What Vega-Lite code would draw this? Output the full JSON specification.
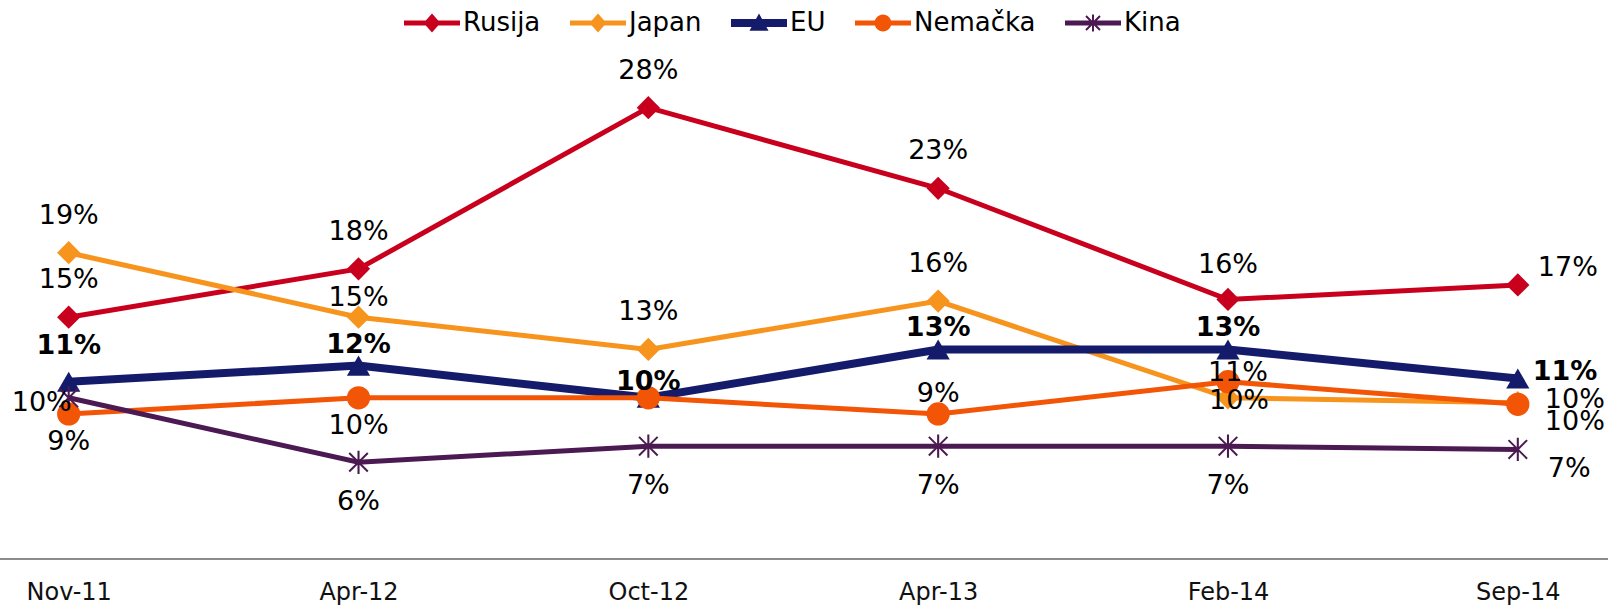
{
  "$schema": "https://vega.github.io/schema/vega-lite/v6.json",
  "width": 1608,
  "height": 559,
  "autosize": "none",
  "padding": {"top": 0, "bottom": 47, "left": 0, "right": 0},
  "background": "white",
  "config": {
    "view": {"stroke": null},
    "axisX": {"domain": false, "ticks": false, "tickSize": 0, "grid": false, "labelFont": "DejaVu Sans", "labelFontSize": 24, "labelColor": "#111111", "labelPadding": 21, "labelAngle": 0},
    "text": {"font": "DejaVu Sans", "fontSize": 27, "color": "#000000", "baseline": "middle"}
  },
  "datasets": {
    "d": [
      {"date": "Nov-11", "series": "Rusija", "v": 0.15},
      {"date": "Apr-12", "series": "Rusija", "v": 0.18},
      {"date": "Oct-12", "series": "Rusija", "v": 0.28},
      {"date": "Apr-13", "series": "Rusija", "v": 0.23},
      {"date": "Feb-14", "series": "Rusija", "v": 0.161},
      {"date": "Sep-14", "series": "Rusija", "v": 0.17},
      {"date": "Nov-11", "series": "Japan", "v": 0.19},
      {"date": "Apr-12", "series": "Japan", "v": 0.15},
      {"date": "Oct-12", "series": "Japan", "v": 0.13},
      {"date": "Apr-13", "series": "Japan", "v": 0.16},
      {"date": "Feb-14", "series": "Japan", "v": 0.10},
      {"date": "Sep-14", "series": "Japan", "v": 0.097},
      {"date": "Nov-11", "series": "EU", "v": 0.11},
      {"date": "Apr-12", "series": "EU", "v": 0.12},
      {"date": "Oct-12", "series": "EU", "v": 0.10},
      {"date": "Apr-13", "series": "EU", "v": 0.13},
      {"date": "Feb-14", "series": "EU", "v": 0.13},
      {"date": "Sep-14", "series": "EU", "v": 0.112},
      {"date": "Nov-11", "series": "Nemačka", "v": 0.09},
      {"date": "Apr-12", "series": "Nemačka", "v": 0.10},
      {"date": "Oct-12", "series": "Nemačka", "v": 0.10},
      {"date": "Apr-13", "series": "Nemačka", "v": 0.09},
      {"date": "Feb-14", "series": "Nemačka", "v": 0.11},
      {"date": "Sep-14", "series": "Nemačka", "v": 0.096},
      {"date": "Nov-11", "series": "Kina", "v": 0.10},
      {"date": "Apr-12", "series": "Kina", "v": 0.06},
      {"date": "Oct-12", "series": "Kina", "v": 0.07},
      {"date": "Apr-13", "series": "Kina", "v": 0.07},
      {"date": "Feb-14", "series": "Kina", "v": 0.07},
      {"date": "Sep-14", "series": "Kina", "v": 0.068}
    ]
  },
  "data": {"name": "d"},
  "layer": [
    {
      "data": {"values": [{}]},
      "mark": {"type": "rule", "color": "#8c8c8c", "strokeWidth": 2},
      "encoding": {"y": {"datum": 0, "type": "quantitative", "scale": {"domain": [0, 0.3468], "nice": false}, "axis": null}}
    },
    {
      "transform": [{"filter": "datum.series=='Rusija' || datum.series=='Japan'"}],
      "mark": {"type": "line", "strokeWidth": 5},
      "encoding": {
        "x": {"field": "date", "type": "ordinal", "scale": {"type": "point", "domain": ["Nov-11", "Apr-12", "Oct-12", "Apr-13", "Feb-14", "Sep-14"], "range": [68.7, 1517.8], "padding": 0}, "title": null},
        "y": {"field": "v", "type": "quantitative", "scale": {"domain": [0, 0.3468], "nice": false}, "axis": null},
        "stroke": {"field": "series", "type": "nominal", "scale": {"domain": ["Kina", "Nemačka", "EU", "Japan", "Rusija"], "range": ["#4C1A52", "#F25506", "#141B6B", "#F7941D", "#C8001E"]}, "legend": null}
      }
    },
    {
      "transform": [{"filter": "datum.series=='EU'"}],
      "mark": {"type": "line", "strokeWidth": 8, "color": "#141B6B"},
      "encoding": {
        "x": {"field": "date", "type": "ordinal", "scale": {"type": "point", "domain": ["Nov-11", "Apr-12", "Oct-12", "Apr-13", "Feb-14", "Sep-14"], "range": [68.7, 1517.8], "padding": 0}, "title": null},
        "y": {"field": "v", "type": "quantitative", "scale": {"domain": [0, 0.3468], "nice": false}, "axis": null}
      }
    },
    {
      "transform": [{"filter": "datum.series=='Nemačka' || datum.series=='Kina'"}],
      "mark": {"type": "line", "strokeWidth": 5},
      "encoding": {
        "x": {"field": "date", "type": "ordinal", "scale": {"type": "point", "domain": ["Nov-11", "Apr-12", "Oct-12", "Apr-13", "Feb-14", "Sep-14"], "range": [68.7, 1517.8], "padding": 0}, "title": null},
        "y": {"field": "v", "type": "quantitative", "scale": {"domain": [0, 0.3468], "nice": false}, "axis": null},
        "stroke": {"field": "series", "type": "nominal", "scale": {"domain": ["Kina", "Nemačka", "EU", "Japan", "Rusija"], "range": ["#4C1A52", "#F25506", "#141B6B", "#F7941D", "#C8001E"]}, "legend": null}
      }
    },
    {
      "mark": {"type": "point", "filled": true, "size": 540, "opacity": 1},
      "encoding": {
        "x": {"field": "date", "type": "ordinal", "scale": {"type": "point", "domain": ["Nov-11", "Apr-12", "Oct-12", "Apr-13", "Feb-14", "Sep-14"], "range": [68.7, 1517.8], "padding": 0}, "title": null},
        "y": {"field": "v", "type": "quantitative", "scale": {"domain": [0, 0.3468], "nice": false}, "axis": null},
        "shape": {"field": "series", "type": "nominal",
          "scale": {"domain": ["Japan", "Rusija", "EU", "Nemačka", "Kina"], "range": ["diamond", "diamond", "triangle-up", "circle",
            "M-0.09,-1H0.09V1H-0.09Z M-0.739,-0.861L0.861,0.739L0.739,0.861L-0.861,-0.739Z M-0.861,0.739L0.739,-0.861L0.861,-0.739L-0.739,0.861Z"]},
          "legend": null},
        "fill": {"field": "series", "type": "nominal", "title": null,
          "scale": {"domain": ["Rusija", "Japan", "EU", "Nemačka", "Kina"], "range": ["#C8001E", "#F7941D", "#141B6B", "#F25506", "#4C1A52"]},
          "legend": {"orient": "none", "legendX": 404, "legendY": -5, "direction": "horizontal", "title": null, "symbolSize": 3136, "labelFont": "DejaVu Sans", "labelFontSize": 26, "labelColor": "#000000", "labelOffset": 3, "columnPadding": 29, "padding": 0, "symbolStrokeWidth": 0, "symbolOpacity": 1,
            "encode": {"symbols": {"update": {
              "size": {"value": 3136},
              "opacity": {"value": 1},
              "shape": {"signal": "datum.value == 'EU' ? 'M-1,-0.14H1V0.14H-1Z M0,-0.34L0.34,0.28L-0.34,0.28Z' : datum.value == 'Nemačka' ? 'M-1,-0.09H1V0.09H-1Z M-0.3,0A0.3,0.3 0 1,1 0.3,0A0.3,0.3 0 1,1 -0.3,0Z' : datum.value == 'Kina' ? 'M-1,-0.09H1V0.09H-1Z M-0.035,-0.3H0.035V0.3H-0.035Z M-0.225,-0.275L0.275,0.225L0.225,0.275L-0.275,-0.225Z M-0.275,0.225L0.225,-0.275L0.275,-0.225L-0.225,0.275Z' : 'M-1,-0.09H1V0.09H-1Z M0,-0.34L0.3,0L0,0.34L-0.3,0Z'"}
            }}}}}
      }
    },
    {
      "transform": [{"filter": "(datum.series=='Rusija' && indexof(['Nov-11','Apr-12','Oct-12','Apr-13'], datum.date) >= 0) || (datum.series=='Japan' && indexof(['Nov-11','Oct-12','Apr-13'], datum.date) >= 0)"}],
      "mark": {"type": "text", "dy": -37},
      "encoding": {
        "x": {"field": "date", "type": "ordinal", "scale": {"type": "point", "domain": ["Nov-11", "Apr-12", "Oct-12", "Apr-13", "Feb-14", "Sep-14"], "range": [68.7, 1517.8], "padding": 0}, "title": null},
        "y": {"field": "v", "type": "quantitative", "scale": {"domain": [0, 0.3468], "nice": false}, "axis": null},
        "text": {"field": "v", "type": "quantitative", "format": ".0%"}
      }
    },
    {
      "transform": [{"filter": "datum.series=='Rusija' && datum.date=='Feb-14'"}],
      "mark": {"type": "text", "dy": -34},
      "encoding": {
        "x": {"field": "date", "type": "ordinal", "scale": {"type": "point", "domain": ["Nov-11", "Apr-12", "Oct-12", "Apr-13", "Feb-14", "Sep-14"], "range": [68.7, 1517.8], "padding": 0}, "title": null},
        "y": {"field": "v", "type": "quantitative", "scale": {"domain": [0, 0.3468], "nice": false}, "axis": null},
        "text": {"field": "v", "type": "quantitative", "format": ".0%"}
      }
    },
    {
      "transform": [{"filter": "datum.series=='Japan' && datum.date=='Apr-12'"}],
      "mark": {"type": "text", "dy": -19},
      "encoding": {
        "x": {"field": "date", "type": "ordinal", "scale": {"type": "point", "domain": ["Nov-11", "Apr-12", "Oct-12", "Apr-13", "Feb-14", "Sep-14"], "range": [68.7, 1517.8], "padding": 0}, "title": null},
        "y": {"field": "v", "type": "quantitative", "scale": {"domain": [0, 0.3468], "nice": false}, "axis": null},
        "text": {"field": "v", "type": "quantitative", "format": ".0%"}
      }
    },
    {
      "transform": [{"filter": "datum.series=='Japan' && datum.date=='Feb-14'"}],
      "mark": {"type": "text", "dx": 11, "dy": 3},
      "encoding": {
        "x": {"field": "date", "type": "ordinal", "scale": {"type": "point", "domain": ["Nov-11", "Apr-12", "Oct-12", "Apr-13", "Feb-14", "Sep-14"], "range": [68.7, 1517.8], "padding": 0}, "title": null},
        "y": {"field": "v", "type": "quantitative", "scale": {"domain": [0, 0.3468], "nice": false}, "axis": null},
        "text": {"field": "v", "type": "quantitative", "format": ".0%"}
      }
    },
    {
      "transform": [{"filter": "datum.series=='Rusija' && datum.date=='Sep-14'"}],
      "mark": {"type": "text", "align": "left", "dx": 20, "dy": -17},
      "encoding": {
        "x": {"field": "date", "type": "ordinal", "scale": {"type": "point", "domain": ["Nov-11", "Apr-12", "Oct-12", "Apr-13", "Feb-14", "Sep-14"], "range": [68.7, 1517.8], "padding": 0}, "title": null},
        "y": {"field": "v", "type": "quantitative", "scale": {"domain": [0, 0.3468], "nice": false}, "axis": null},
        "text": {"field": "v", "type": "quantitative", "format": ".0%"}
      }
    },
    {
      "transform": [{"filter": "datum.series=='Japan' && datum.date=='Sep-14'"}],
      "mark": {"type": "text", "align": "left", "dx": 27, "dy": -3},
      "encoding": {
        "x": {"field": "date", "type": "ordinal", "scale": {"type": "point", "domain": ["Nov-11", "Apr-12", "Oct-12", "Apr-13", "Feb-14", "Sep-14"], "range": [68.7, 1517.8], "padding": 0}, "title": null},
        "y": {"field": "v", "type": "quantitative", "scale": {"domain": [0, 0.3468], "nice": false}, "axis": null},
        "text": {"field": "v", "type": "quantitative", "format": ".0%"}
      }
    },
    {
      "transform": [{"filter": "datum.series=='Nemačka' && datum.date=='Sep-14'"}],
      "mark": {"type": "text", "align": "left", "dx": 27, "dy": 18},
      "encoding": {
        "x": {"field": "date", "type": "ordinal", "scale": {"type": "point", "domain": ["Nov-11", "Apr-12", "Oct-12", "Apr-13", "Feb-14", "Sep-14"], "range": [68.7, 1517.8], "padding": 0}, "title": null},
        "y": {"field": "v", "type": "quantitative", "scale": {"domain": [0, 0.3468], "nice": false}, "axis": null},
        "text": {"field": "v", "type": "quantitative", "format": ".0%"}
      }
    },
    {
      "transform": [{"filter": "datum.series=='Kina' && datum.date=='Sep-14'"}],
      "mark": {"type": "text", "align": "left", "dx": 30, "dy": 20},
      "encoding": {
        "x": {"field": "date", "type": "ordinal", "scale": {"type": "point", "domain": ["Nov-11", "Apr-12", "Oct-12", "Apr-13", "Feb-14", "Sep-14"], "range": [68.7, 1517.8], "padding": 0}, "title": null},
        "y": {"field": "v", "type": "quantitative", "scale": {"domain": [0, 0.3468], "nice": false}, "axis": null},
        "text": {"field": "v", "type": "quantitative", "format": ".0%"}
      }
    },
    {
      "transform": [{"filter": "datum.series=='EU' && datum.date=='Nov-11'"}],
      "mark": {"type": "text", "fontWeight": "bold", "dy": -36},
      "encoding": {
        "x": {"field": "date", "type": "ordinal", "scale": {"type": "point", "domain": ["Nov-11", "Apr-12", "Oct-12", "Apr-13", "Feb-14", "Sep-14"], "range": [68.7, 1517.8], "padding": 0}, "title": null},
        "y": {"field": "v", "type": "quantitative", "scale": {"domain": [0, 0.3468], "nice": false}, "axis": null},
        "text": {"field": "v", "type": "quantitative", "format": ".0%"}
      }
    },
    {
      "transform": [{"filter": "datum.series=='EU' && indexof(['Apr-12','Apr-13','Feb-14'], datum.date) >= 0"}],
      "mark": {"type": "text", "fontWeight": "bold", "dy": -21},
      "encoding": {
        "x": {"field": "date", "type": "ordinal", "scale": {"type": "point", "domain": ["Nov-11", "Apr-12", "Oct-12", "Apr-13", "Feb-14", "Sep-14"], "range": [68.7, 1517.8], "padding": 0}, "title": null},
        "y": {"field": "v", "type": "quantitative", "scale": {"domain": [0, 0.3468], "nice": false}, "axis": null},
        "text": {"field": "v", "type": "quantitative", "format": ".0%"}
      }
    },
    {
      "transform": [{"filter": "datum.series=='EU' && datum.date=='Oct-12'"}],
      "mark": {"type": "text", "fontWeight": "bold", "dy": -16},
      "encoding": {
        "x": {"field": "date", "type": "ordinal", "scale": {"type": "point", "domain": ["Nov-11", "Apr-12", "Oct-12", "Apr-13", "Feb-14", "Sep-14"], "range": [68.7, 1517.8], "padding": 0}, "title": null},
        "y": {"field": "v", "type": "quantitative", "scale": {"domain": [0, 0.3468], "nice": false}, "axis": null},
        "text": {"field": "v", "type": "quantitative", "format": ".0%"}
      }
    },
    {
      "transform": [{"filter": "datum.series=='EU' && datum.date=='Sep-14'"}],
      "mark": {"type": "text", "fontWeight": "bold", "align": "left", "dx": 15, "dy": -6},
      "encoding": {
        "x": {"field": "date", "type": "ordinal", "scale": {"type": "point", "domain": ["Nov-11", "Apr-12", "Oct-12", "Apr-13", "Feb-14", "Sep-14"], "range": [68.7, 1517.8], "padding": 0}, "title": null},
        "y": {"field": "v", "type": "quantitative", "scale": {"domain": [0, 0.3468], "nice": false}, "axis": null},
        "text": {"field": "v", "type": "quantitative", "format": ".0%"}
      }
    },
    {
      "transform": [{"filter": "datum.series=='Nemačka' && (datum.date=='Nov-11' || datum.date=='Apr-12')"}],
      "mark": {"type": "text", "dy": 28},
      "encoding": {
        "x": {"field": "date", "type": "ordinal", "scale": {"type": "point", "domain": ["Nov-11", "Apr-12", "Oct-12", "Apr-13", "Feb-14", "Sep-14"], "range": [68.7, 1517.8], "padding": 0}, "title": null},
        "y": {"field": "v", "type": "quantitative", "scale": {"domain": [0, 0.3468], "nice": false}, "axis": null},
        "text": {"field": "v", "type": "quantitative", "format": ".0%"}
      }
    },
    {
      "transform": [{"filter": "datum.series=='Nemačka' && datum.date=='Apr-13'"}],
      "mark": {"type": "text", "dy": -20},
      "encoding": {
        "x": {"field": "date", "type": "ordinal", "scale": {"type": "point", "domain": ["Nov-11", "Apr-12", "Oct-12", "Apr-13", "Feb-14", "Sep-14"], "range": [68.7, 1517.8], "padding": 0}, "title": null},
        "y": {"field": "v", "type": "quantitative", "scale": {"domain": [0, 0.3468], "nice": false}, "axis": null},
        "text": {"field": "v", "type": "quantitative", "format": ".0%"}
      }
    },
    {
      "transform": [{"filter": "datum.series=='Nemačka' && datum.date=='Feb-14'"}],
      "mark": {"type": "text", "dx": 10, "dy": -9},
      "encoding": {
        "x": {"field": "date", "type": "ordinal", "scale": {"type": "point", "domain": ["Nov-11", "Apr-12", "Oct-12", "Apr-13", "Feb-14", "Sep-14"], "range": [68.7, 1517.8], "padding": 0}, "title": null},
        "y": {"field": "v", "type": "quantitative", "scale": {"domain": [0, 0.3468], "nice": false}, "axis": null},
        "text": {"field": "v", "type": "quantitative", "format": ".0%"}
      }
    },
    {
      "transform": [{"filter": "datum.series=='Kina' && datum.date=='Nov-11'"}],
      "mark": {"type": "text", "dx": -27, "dy": 5},
      "encoding": {
        "x": {"field": "date", "type": "ordinal", "scale": {"type": "point", "domain": ["Nov-11", "Apr-12", "Oct-12", "Apr-13", "Feb-14", "Sep-14"], "range": [68.7, 1517.8], "padding": 0}, "title": null},
        "y": {"field": "v", "type": "quantitative", "scale": {"domain": [0, 0.3468], "nice": false}, "axis": null},
        "text": {"field": "v", "type": "quantitative", "format": ".0%"}
      }
    },
    {
      "transform": [{"filter": "datum.series=='Kina' && indexof(['Apr-12','Oct-12','Apr-13','Feb-14'], datum.date) >= 0"}],
      "mark": {"type": "text", "dy": 40},
      "encoding": {
        "x": {"field": "date", "type": "ordinal", "scale": {"type": "point", "domain": ["Nov-11", "Apr-12", "Oct-12", "Apr-13", "Feb-14", "Sep-14"], "range": [68.7, 1517.8], "padding": 0}, "title": null},
        "y": {"field": "v", "type": "quantitative", "scale": {"domain": [0, 0.3468], "nice": false}, "axis": null},
        "text": {"field": "v", "type": "quantitative", "format": ".0%"}
      }
    }
  ]
}
